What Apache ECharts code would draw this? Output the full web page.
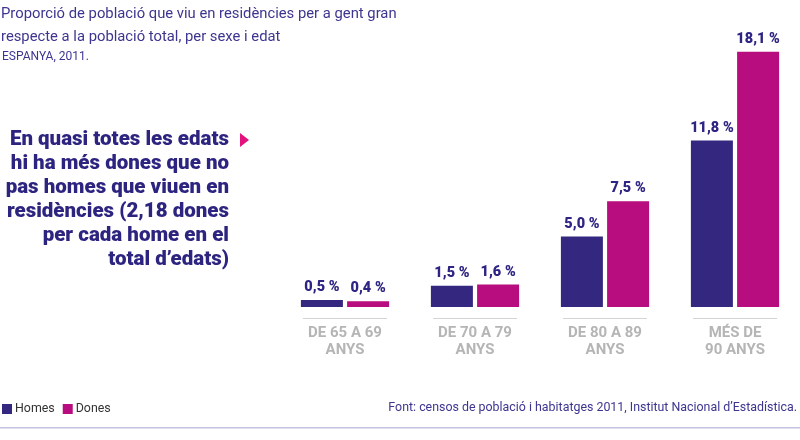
<!DOCTYPE html>
<html><head><meta charset="utf-8">
<script src="https://cdn.jsdelivr.net/npm/echarts@6/dist/echarts.min.js"></script>
<style>html,body{margin:0;padding:0;background:#fff}#c{width:800px;height:440px}</style>
</head><body><div id="c"></div>
<script>
const categories = ['DE 65 A 69\nANYS', 'DE 70 A 79\nANYS', 'DE 80 A 89\nANYS', 'MÉS DE\n90 ANYS'];
const homes = [0.5, 1.5, 5.0, 11.8];
const dones = [0.4, 1.6, 7.5, 18.1];
const seriesNames = ['Homes', 'Dones'];
const titleLines = ['Proporció de població que viu en residències per a gent gran', 'respecte a la població total, per sexe i edat'];
const subtitle = 'ESPANYA, 2011.';
const noteLines = ['En quasi totes les edats', 'hi ha més dones que no', 'pas homes que viuen en', 'residències (2,18 dones', 'per cada home en el', 'total d’edats)'];
const source = 'Font: censos de població i habitatges 2011, Institut Nacional d’Estadística.';

const C_H = '#33277f', C_D = '#b80d7e', C_T = '#3d3590';
const fmt = p => p.value.toFixed(1).replace('.', ',') + ' %';
const chart = echarts.init(document.getElementById('c'));
const labelCfg = {show: true, position: 'top', distance: 5, formatter: fmt,
  color: '#2e2483', fontFamily: 'Roboto, Inter, sans-serif', fontWeight: 900, fontSize: 14.5};

const noteGraphics = noteLines.map((t, i) => ({
  type: 'text', right: 800 - 229, top: 129 + i * 24,
  style: {text: t, fill: '#2d2480', font: '900 20.5px Roboto, Inter, sans-serif', textAlign: 'right'}
}));

chart.setOption({
  animation: false,
  title: [
    {text: titleLines.join('\n'), left: 1, top: 3, padding: 0,
     textStyle: {color: C_T, fontFamily: 'Roboto, sans-serif', fontWeight: 'normal', fontSize: 14.8, lineHeight: 23}},
    {text: subtitle, left: 2, top: 51, padding: 0,
     textStyle: {color: C_T, fontFamily: 'Roboto, sans-serif', fontWeight: 'normal', fontSize: 12}},
    {text: source, right: 3, top: 402, padding: 0,
     textStyle: {color: C_T, fontFamily: 'Roboto, sans-serif', fontWeight: 'normal', fontSize: 12.4}}
  ],
  legend: {left: 2, top: 403, padding: 0, itemWidth: 10, itemHeight: 10, itemGap: 8, icon: 'rect',
    textStyle: {color: '#333', fontFamily: 'Roboto, sans-serif', fontSize: 12.4, padding: [0, 0, 0, -2]},
    data: seriesNames},
  grid: {left: 280, width: 524, top: 25, bottom: 133, containLabel: false},
  xAxis: {type: 'category', data: categories,
    axisLine: {show: false}, axisTick: {show: false},
    axisLabel: {margin: 11, interval: 0,
      formatter: v => '{l| }\n{s| }\n' + v.split('\n').map(s => '{t|' + s + '}').join('\n'),
      rich: {
        l: {width: 84, height: 1, lineHeight: 1, fontSize: 1, backgroundColor: '#d4d4d4'},
        s: {fontSize: 1, lineHeight: 6, height: 6},
        t: {color: '#b5b5b5', fontFamily: 'Roboto, Inter, sans-serif', fontWeight: 'bold', fontSize: 15, lineHeight: 17}
      }}},
  yAxis: {type: 'value', min: 0, max: 20, show: false, splitLine: {show: false}},
  series: [
    {name: seriesNames[0], type: 'bar', data: homes, barWidth: 42, barGap: '10%', itemStyle: {color: C_H}, label: labelCfg},
    {name: seriesNames[1], type: 'bar', data: dones, barWidth: 42, barGap: '10%', itemStyle: {color: C_D}, label: labelCfg}
  ],
  graphic: noteGraphics.concat([
    {type: 'polygon', shape: {points: [[240, 133], [249, 140], [240, 147]]}, style: {fill: '#e3127e'}},
    {type: 'rect', shape: {x: 0, y: 427, width: 800, height: 1.5}, style: {fill: '#c4c1e2'}}
  ])
});
</script></body></html>
